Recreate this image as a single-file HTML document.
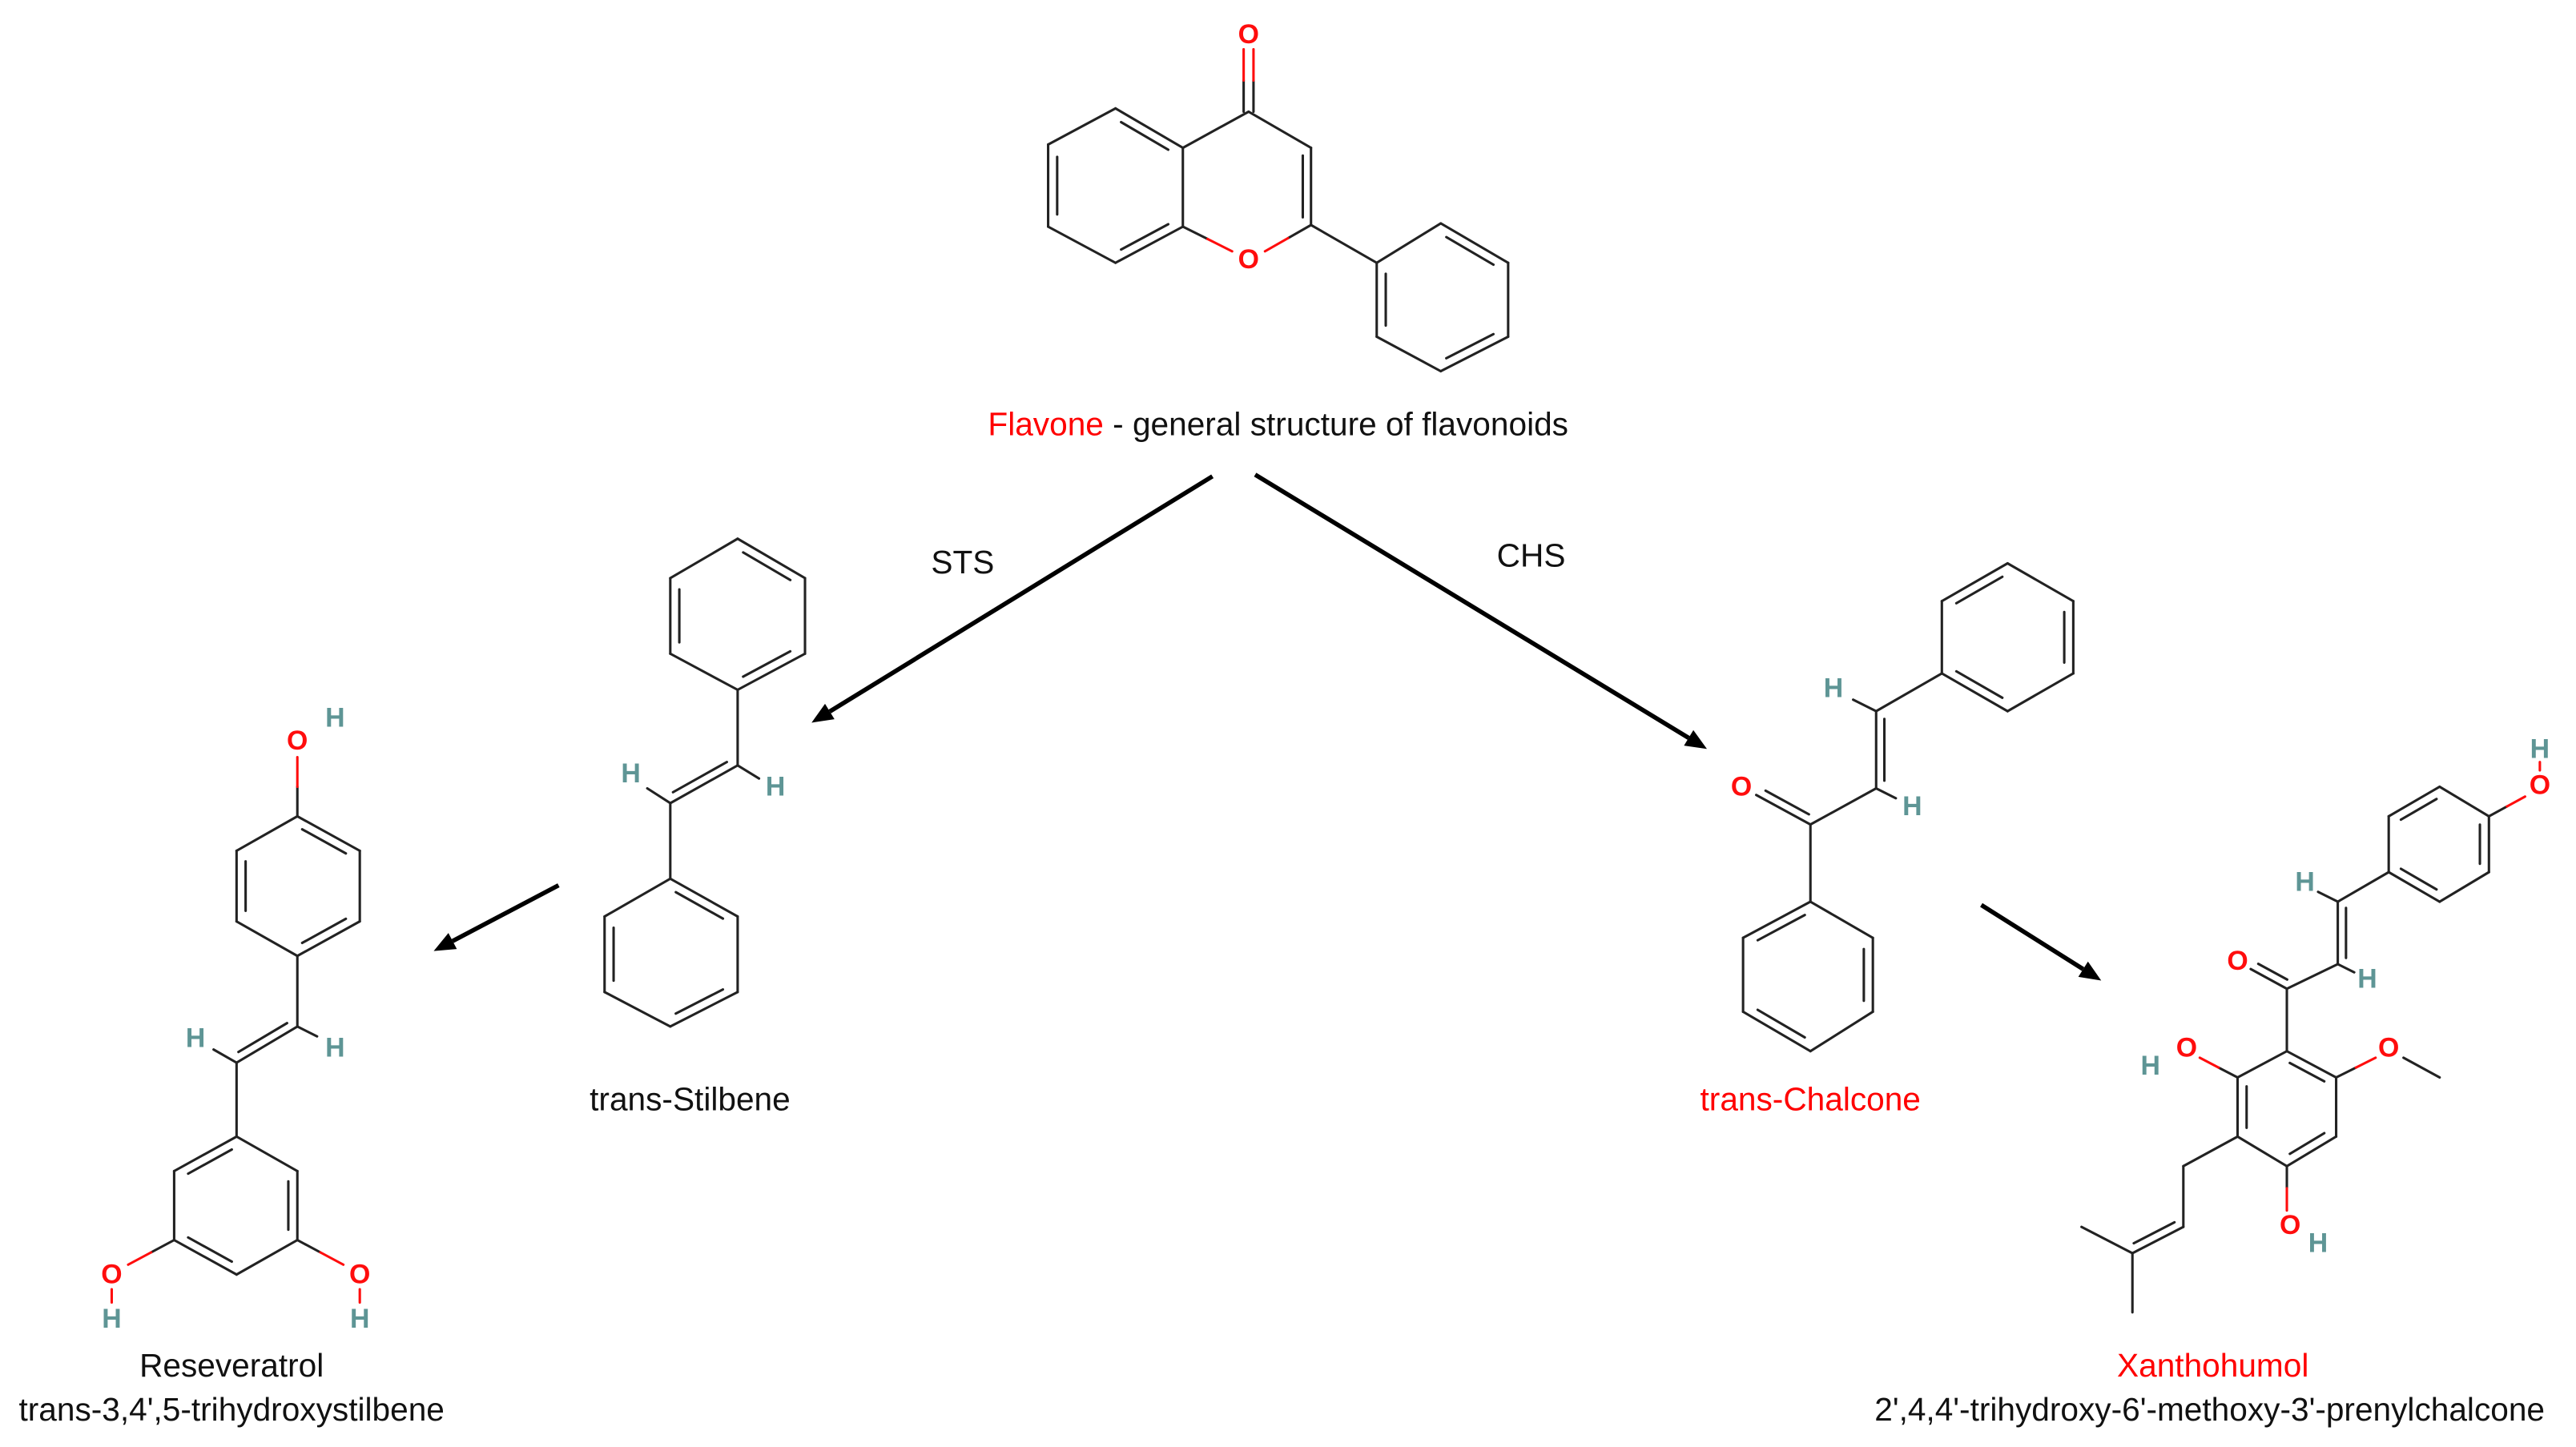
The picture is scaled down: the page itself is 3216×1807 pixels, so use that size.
<!DOCTYPE html>
<html><head><meta charset="utf-8"><style>
html,body{margin:0;padding:0;background:#fff;}
svg{display:block;}
.lab{font-family:"Liberation Sans",sans-serif;font-size:19.8px;fill:#111;}
.red{fill:#ff0000;}
.at{font-family:"Liberation Sans",sans-serif;font-size:16.5px;font-weight:bold;dominant-baseline:central;text-anchor:middle;}
.O{fill:#ff0d0d;}
.H{fill:#5e9595;}
</style></head><body>
<svg id="s" width="3216" height="1807" viewBox="0 0 1568 881" preserveAspectRatio="none" xmlns="http://www.w3.org/2000/svg">
<g id="b" stroke="#222" stroke-width="1.5" fill="none" stroke-linecap="round"></g>
<g id="arr" stroke="#000" stroke-width="2.7" fill="none"></g>
<text class="at O" x="760" y="21">O</text>
<text class="at O" x="760" y="158">O</text>

<text class="at O" x="181" y="451">O</text>
<text class="at H" x="204" y="437">H</text>
<text class="at H" x="119" y="632">H</text>
<text class="at H" x="204" y="638">H</text>
<text class="at O" x="68" y="776">O</text>
<text class="at H" x="68" y="803">H</text>
<text class="at O" x="219" y="776">O</text>
<text class="at H" x="219" y="803">H</text>

<text class="at H" x="384" y="471">H</text>
<text class="at H" x="472" y="479">H</text>

<text class="at H" x="1116" y="419">H</text>
<text class="at H" x="1164" y="491">H</text>
<text class="at O" x="1060" y="479">O</text>

<text class="at H" x="1546" y="456">H</text>
<text class="at O" x="1546" y="478">O</text>
<text class="at H" x="1403" y="537">H</text>
<text class="at H" x="1441" y="596">H</text>
<text class="at O" x="1362" y="585">O</text>
<text class="at O" x="1331" y="638">O</text>
<text class="at H" x="1309" y="649">H</text>
<text class="at O" x="1454" y="638">O</text>
<text class="at O" x="1394" y="746">O</text>
<text class="at H" x="1411" y="757">H</text>

<text class="lab" x="778" y="265" text-anchor="middle"><tspan class="red">Flavone</tspan> - general structure of flavonoids</text>
<text class="lab" x="586" y="349" text-anchor="middle">STS</text>
<text class="lab" x="932" y="345" text-anchor="middle">CHS</text>
<text class="lab" x="420" y="676" text-anchor="middle">trans-Stilbene</text>
<text class="lab red" x="1102" y="676" text-anchor="middle">trans-Chalcone</text>
<text class="lab" x="141" y="838" text-anchor="middle">Reseveratrol</text>
<text class="lab" x="141" y="865" text-anchor="middle">trans-3,4',5-trihydroxystilbene</text>
<text class="lab red" x="1347" y="838" text-anchor="middle">Xanthohumol</text>
<text class="lab" x="1345" y="865" text-anchor="middle">2',4,4'-trihydroxy-6'-methoxy-3'-prenylchalcone</text>
</svg>
<script>
var NS="http://www.w3.org/2000/svg",G=document.getElementById('b'),A=document.getElementById('arr');
function L(a,b,c,g){var e=document.createElementNS(NS,'line');e.setAttribute('x1',a[0]);e.setAttribute('y1',a[1]);e.setAttribute('x2',b[0]);e.setAttribute('y2',b[1]);if(c)e.setAttribute('stroke',c);(g||G).appendChild(e);}
function lerp(a,b,t){return[a[0]+(b[0]-a[0])*t,a[1]+(b[1]-a[1])*t];}
function inner(a,b,c){var m=lerp(a,b,.5),dx=c[0]-m[0],dy=c[1]-m[1],d=Math.hypot(dx,dy),o=5.5;var a2=lerp(a,b,.15),b2=lerp(a,b,.85);L([a2[0]+dx/d*o,a2[1]+dy/d*o],[b2[0]+dx/d*o,b2[1]+dy/d*o]);}
function ring(P,st){var c=[0,0];P.forEach(function(p){c[0]+=p[0]/6;c[1]+=p[1]/6;});for(var i=0;i<6;i++)L(P[i],P[(i+1)%6]);st.forEach(function(i){inner(P[i],P[(i+1)%6],c);});}
function dbl(a,b,s){var dx=b[0]-a[0],dy=b[1]-a[1],d=Math.hypot(dx,dy),nx=-dy/d*5*s,ny=dx/d*5*s;L(a,b);var a2=lerp(a,b,.1),b2=lerp(a,b,.9);L([a2[0]+nx,a2[1]+ny],[b2[0]+nx,b2[1]+ny]);}
function het(a,b,col){var m=lerp(a,b,.5);L(a,m);L(m,b,col||'#ff0d0d');}
ring([[679,66],[638,88],[638,138],[679,160],[720,138],[720,90]],[1,3,5]);
L([720,90],[760,68]);L([760,68],[798,90]);dbl([798,90],[798,137],1);
het([798,137],[770,153]);het([720,138],[750,153]);
L([757,68],[757,49]);L([757,49],[757,30],'#ff0d0d');L([763,68],[763,49]);L([763,49],[763,30],'#ff0d0d');
L([798,137],[838,160]);
ring([[838,160],[877,136],[918,160],[918,205],[877,226],[838,205]],[1,3,5]);
ring([[181,497],[144,518],[144,561],[181,582],[219,561],[219,518]],[1,3,5]);
het([181,497],[181,461]);
L([181,582],[181,625]);dbl([181,625],[144,647],1);L([181,625],[193,631]);L([144,647],[130,639]);
L([144,647],[144,692]);
ring([[144,692],[106,713],[106,755],[144,776],[181,755],[181,713]],[0,2,4]);
het([106,755],[78,770]);het([181,755],[209,770]);L([68,785],[68,793],'#ff0d0d');L([219,785],[219,793],'#ff0d0d');
ring([[449,328],[408,352],[408,398],[449,420],[490,398],[490,352]],[1,3,5]);
L([449,420],[449,466]);dbl([449,466],[408,489],1);L([449,466],[462,474]);L([408,489],[394,480]);
L([408,489],[408,535]);
ring([[408,535],[368,558],[368,604],[408,625],[449,604],[449,558]],[1,3,5]);
ring([[1222,343],[1182,366],[1182,410],[1222,433],[1262,410],[1262,366]],[0,2,4]);
L([1182,410],[1142,433]);dbl([1142,433],[1142,480],-1);L([1142,433],[1128,426]);L([1142,480],[1154,486]);
L([1142,480],[1102,502]);dbl([1102,502],[1069,484],1);
L([1102,502],[1102,549]);
ring([[1102,549],[1061,571],[1061,616],[1102,640],[1140,616],[1140,571]],[0,2,4]);
ring([[1485,479],[1454,497],[1454,531],[1485,549],[1515,531],[1515,497]],[0,2,4]);
het([1515,497],[1537,485]);L([1546,464],[1546,469],'#ff0d0d');
L([1454,531],[1423,549]);dbl([1423,549],[1423,587],-1);L([1423,549],[1411,543]);L([1423,587],[1433,592]);
L([1423,587],[1392,602]);dbl([1392,602],[1370,590],1);
L([1392,602],[1392,640]);
ring([[1392,640],[1362,656],[1362,692],[1392,710],[1422,692],[1422,656]],[1,3,5]);
het([1362,656],[1339,644]);het([1422,656],[1446,644]);L([1463,644],[1485,656]);
het([1392,710],[1392,737]);
L([1362,692],[1329,710]);L([1329,710],[1329,747]);dbl([1329,747],[1298,763],1);L([1298,763],[1267,747]);L([1298,763],[1298,799]);
function arrow(a,b){var dx=b[0]-a[0],dy=b[1]-a[1],d=Math.hypot(dx,dy),ux=dx/d,uy=dy/d,h=13,w=5.5;var base=[b[0]-ux*h,b[1]-uy*h];L(a,base,null,A);var p=document.createElementNS(NS,'polygon');p.setAttribute('points',b[0]+','+b[1]+' '+(base[0]-uy*w)+','+(base[1]+ux*w)+' '+(base[0]+uy*w)+','+(base[1]-ux*w));p.setAttribute('fill','#000');p.setAttribute('stroke','none');A.appendChild(p);}
arrow([738,290],[494,440]);arrow([764,289],[1039,456]);arrow([340,539],[264,579]);arrow([1206,551],[1279,597]);
</script>
</body></html>
